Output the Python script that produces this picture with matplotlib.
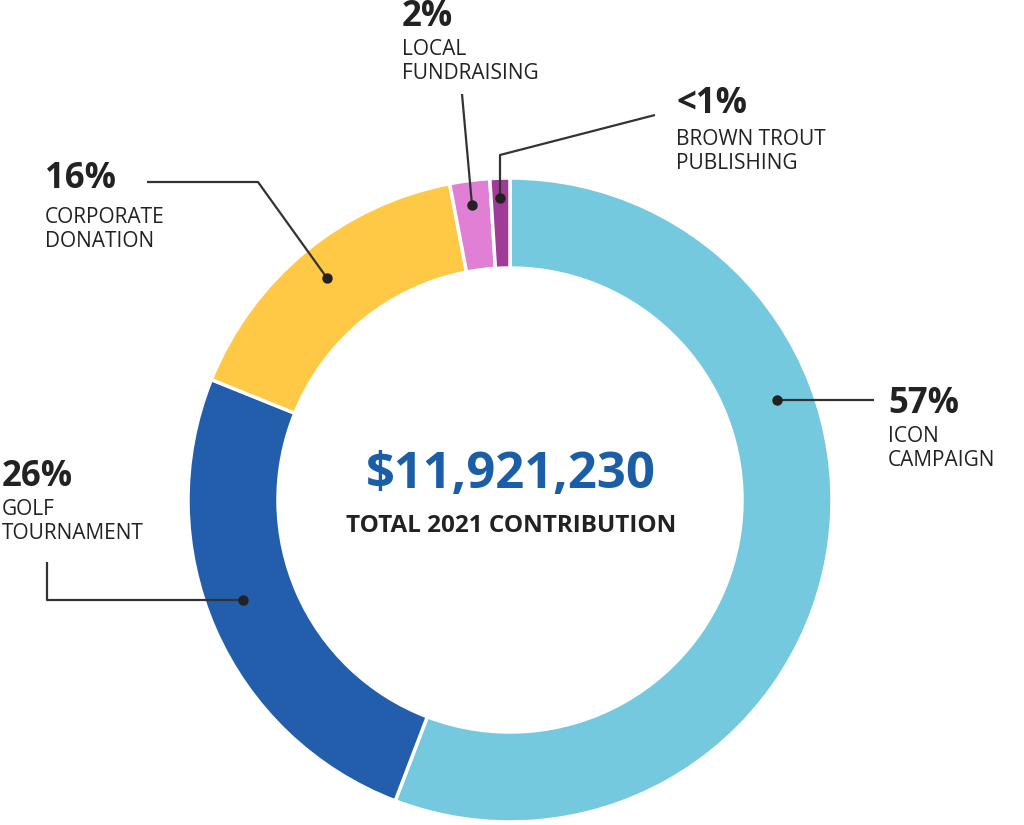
import matplotlib.pyplot as plt

# data
labels = ['ICON\nCAMPAIGN', 'GOLF\nTOURNAMENT', 'CORPORATE\nDONATION',
          'LOCAL\nFUNDRAISING', 'BROWN TROUT\nPUBLISHING']
shares = [55.8, 25.3, 15.9, 2.0, 1.0]
pct_text = ['57%', '26%', '16%', '2%', '<1%']
colors = ['#74C9DE', '#235EAC', '#FFC845', '#E07FD3', '#A03C98']
total_text = '$11,921,230'
subtitle = 'TOTAL 2021 CONTRIBUTION'

W, H = 1024, 825
plt.rcParams['font.family'] = ['Open Sans', 'DejaVu Sans']
dark = '#222222'

def Y(y):
    # pixel rows (top down) -> data y
    return H - y

fig = plt.figure(figsize=(W / 100, H / 100), dpi=100)
ax = fig.add_axes([0, 0, 1, 1])

ax.pie(shares, colors=colors, startangle=90, counterclock=False,
       center=(510, Y(500)), radius=322, frame=True,
       wedgeprops=dict(width=90, edgecolor='white', linewidth=2.5))
ax.set_xlim(0, W)
ax.set_ylim(0, H)
ax.set_aspect('equal')
ax.axis('off')

# center text
ax.text(511, Y(488), total_text, ha='center', va='baseline', fontsize=36.5,
        fontweight='bold', color='#1A5EA8')
ax.text(511, Y(532), subtitle, ha='center', va='baseline', fontsize=17.5,
        fontweight='bold', color=dark)

# leader lines: polyline points (px), last point gets the dot
leaders = [
    [(874, 400), (777, 400)],
    [(47, 562), (47, 600), (243, 600)],
    [(147, 182), (258, 182), (327, 278)],
    [(462, 94), (472, 205)],
    [(655, 115), (500, 155), (500, 198)],
]
for pts in leaders:
    xs = [p[0] for p in pts]
    ys = [Y(p[1]) for p in pts]
    ax.plot(xs, ys, color='#333333', lw=1.6, solid_capstyle='butt')
    ax.plot(xs[-1], ys[-1], 'o', color='#222222', ms=6.5)

# label blocks: x, baseline of pct, baseline of first line
label_pos = [(888, 413, 442), (2, 486, 515), (45, 188, 223),
             (402, 26, 55), (676, 113, 145)]
for (x, yp, yl), p, lab in zip(label_pos, pct_text, labels):
    ax.text(x, Y(yp), p, ha='left', va='baseline', fontsize=25,
            fontweight='bold', color=dark)
    l1, l2 = lab.split('\n')
    ax.text(x, Y(yl), l1, ha='left', va='baseline', fontsize=15, color=dark)
    ax.text(x, Y(yl + 24), l2, ha='left', va='baseline', fontsize=15, color=dark)

fig.savefig('out.png', dpi=100, facecolor='white')
